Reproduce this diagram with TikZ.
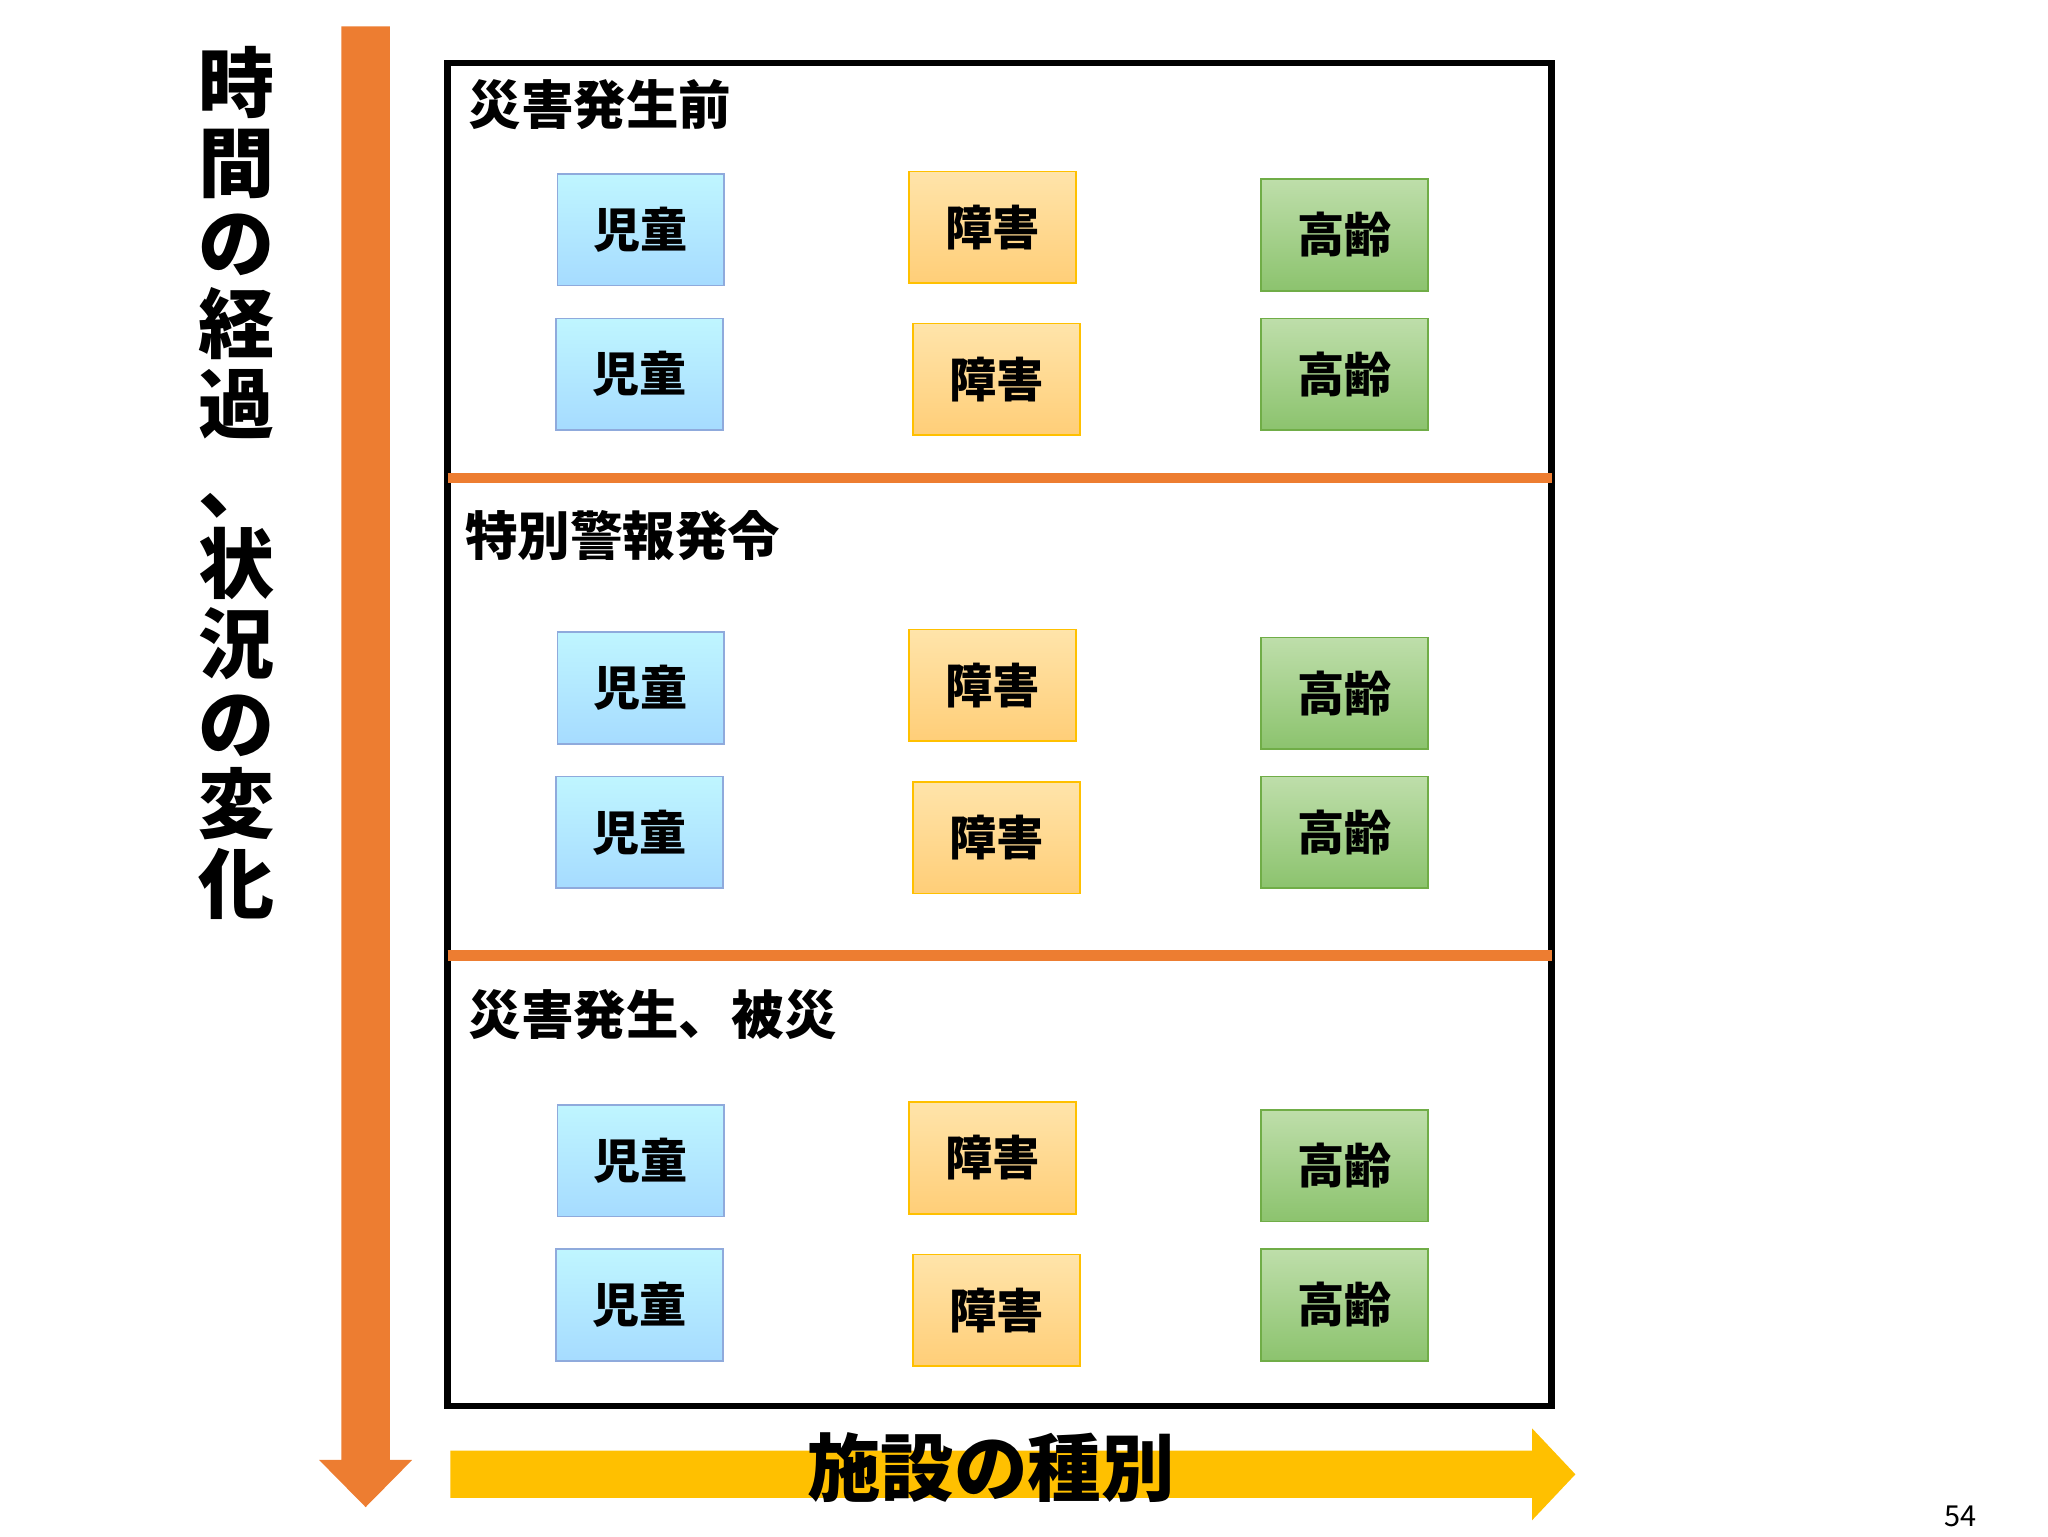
\documentclass[tikz,border=0pt]{standalone}
\usepackage{fontspec}
\newfontfamily\cjk{Noto Sans CJK JP}
\begin{document}
\begin{tikzpicture}[x=1pt,y=-1pt,
 cell/.style={minimum width=127pt,minimum height=85pt,inner sep=0pt,line width=1.2pt,font=\cjk\bfseries\fontsize{36}{40}\selectfont},
 blue/.style={cell,draw=blue!30!cyan!60!gray,top color=blue!15!cyan!25!white,bottom color=blue!40!cyan!35!white,draw={rgb,255:red,143;green,170;blue,220}},
 orng/.style={cell,draw={rgb,255:red,255;green,192;blue,0},top color={rgb,255:red,255;green,228;blue,170},bottom color={rgb,255:red,255;green,206;blue,120}},
 grn/.style={cell,draw={rgb,255:red,112;green,173;blue,71},top color={rgb,255:red,190;green,222;blue,170},bottom color={rgb,255:red,140;green,195;blue,110}},
 ttl/.style={anchor=west,inner sep=0pt,font=\cjk\bfseries\fontsize{40}{44}\selectfont},
 sep/.style={draw={rgb,255:red,237;green,125;blue,49},line width=8pt}]
\definecolor{orA}{RGB}{237,125,49}
\definecolor{yel}{RGB}{255,192,0}
\useasboundingbox (0,0) rectangle (1560,1170);
% vertical arrow
\fill[orA] (260,20) -- (297,20) -- (297,1112) -- (314,1112) -- (278.5,1148) -- (243,1112) -- (260,1112) -- cycle;
\node[align=center,inner sep=0pt,font=\cjk\bfseries\fontsize{58}{61}\selectfont] (vt) at (180,368) {時\\間\\の\\経\\過\\、\\状\\況\\の\\変\\化};
% frame
\draw[line width=5pt] (341,48) rectangle (1182,1071);
\coordinate (s1a) at (341,364); \coordinate (s1b) at (1182,364);
\coordinate (s2a) at (341,728); \coordinate (s2b) at (1182,728);
\draw[sep] (s1a) -- (s1b);
\draw[sep] (s2a) -- (s2b);
\node[ttl] (t1) at (357,80) {災害発生前};
\node[ttl] (t2) at (354,408) {特別警報発令};
\node[ttl] (t3) at (357,773) {災害発生、被災};
\foreach \o/\k in {0/a,349/b,709/c}{
 \node[blue] (b1\k) at (488,175+\o) {児童};
 \node[blue] (b2\k) at (487,285+\o) {児童};
 \node[orng] (o1\k) at (756,173+\o) {障害};
 \node[orng] (o2\k) at (759,289+\o) {障害};
 \node[grn] (g1\k) at (1024,179+\o) {高齢};
 \node[grn] (g2\k) at (1024,285+\o) {高齢};
}
% bottom arrow
\fill[yel] (343,1105) -- (1167,1105) -- (1167,1088) -- (1200,1123) -- (1167,1158) -- (1167,1141) -- (343,1141) -- cycle;
\node[inner sep=0pt,font=\cjk\bfseries\fontsize{56}{60}\selectfont] (ht) at (755,1118) {施設の種別};
\node[inner sep=0pt,font=\cjk\fontsize{22}{24}\selectfont] (pg) at (1493,1155) {54};
\end{tikzpicture}
\end{document}
